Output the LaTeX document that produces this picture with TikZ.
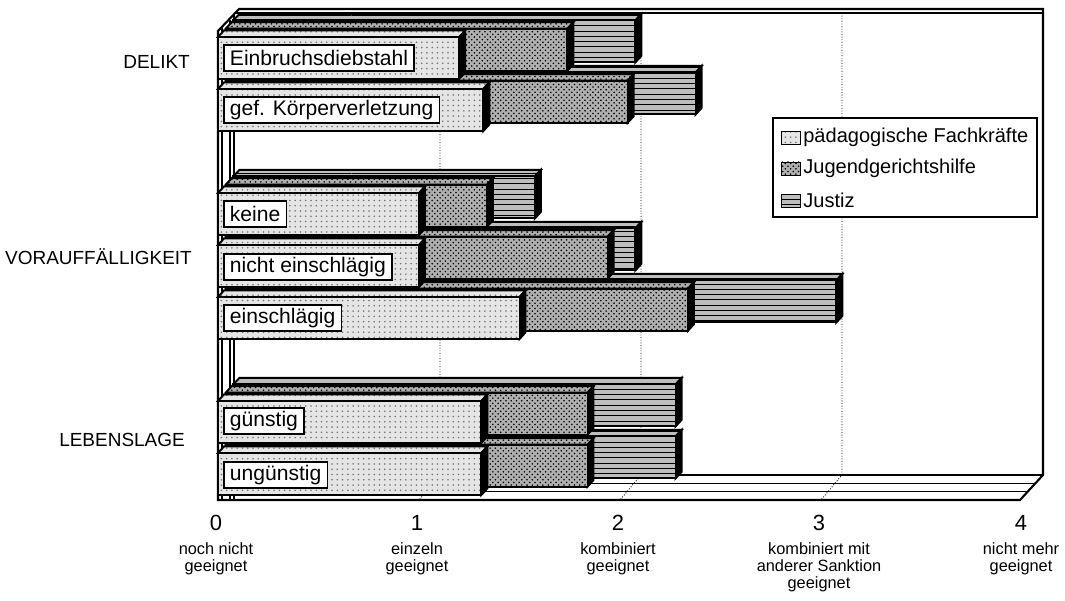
\documentclass[tikz,border=0pt]{standalone}
\usepackage{fontspec}
\setmainfont{Liberation Sans}
\usetikzlibrary{patterns}

\tikzset{
  paed/.style={draw=black, line width=1.1pt, preaction={fill=gray!20}, pattern=dots, pattern color=gray!90!black},
  jugend/.style={draw=black, line width=1.1pt, preaction={fill=gray!62}, pattern=crosshatch dots, pattern color=black},
  justiz/.style={draw=black, line width=1.1pt, preaction={fill=gray!52}, pattern=horizontal lines, pattern color=black},
  zeile/.style={draw=black, line width=0.9pt, fill=white, anchor=west, inner xsep=3.5pt, inner ysep=0pt, minimum height=15pt, font=\fontsize{12}{12}\selectfont},
  gruppe/.style={anchor=east, font=\fontsize{10.8}{12}\selectfont},
  legtext/.style={anchor=west, inner sep=0pt, font=\fontsize{11.4}{12}\selectfont},
  zahl/.style={font=\fontsize{12.5}{13}\selectfont},
  skala/.style={anchor=north, align=center, font=\fontsize{9.3}{9.9}\selectfont},
  gitter/.style={densely dotted, line width=0.5pt}
}

% 3D-Balken: Ebene, Oberkante, Wert, Stil
\newcommand{\balken}[4]{%
  \pgfmathsetmacro{\xa}{218+7.7*#1}%
  \pgfmathsetmacro{\ya}{#2-8.3*#1}%
  \pgfmathsetmacro{\xb}{\xa+201*#3}%
  \pgfmathsetmacro{\yb}{\ya+42}%
  \path[#4] (\xa,\ya) -- (\xa+6,\ya-6.5) -- (\xb+6,\ya-6.5) -- (\xb,\ya) -- cycle;
  \filldraw[line width=1.1pt] (\xb,\ya) -- (\xb+6,\ya-6.5) -- (\xb+6,\yb-6.5) -- (\xb,\yb) -- cycle;
  \path[#4] (\xa,\ya) rectangle (\xb,\yb);
}

\begin{document}
\begin{tikzpicture}[x=0.02cm, y=-0.02cm]
\useasboundingbox (0,0) rectangle (1065,601);

% Wand und Boden
\draw[line width=1.2pt] (218,31) -- (239,9) -- (1043,9) -- (1043,475) -- (1020,500) -- (218,500) -- cycle;
\draw[line width=0.6pt] (236,13) -- (1043,13);
\draw[line width=0.6pt] (239,475) -- (1043,475);
\draw[line width=0.6pt] (231.3,483.3) -- (1035.3,483.3);
\draw[line width=0.6pt] (223.7,491.7) -- (1027.7,491.7);
\draw[line width=0.8pt] (222,28) -- (222,500);
\draw[line width=0.6pt] (230,20) -- (230,500);
\draw[line width=0.6pt] (234,15) -- (234,500);

% Gitter
\draw[gitter] (440,13) -- (440,475) -- (419,500);
\draw[gitter] (641,13) -- (641,475) -- (620,500);
\draw[gitter] (842,13) -- (842,475) -- (821,500);

% Justiz
\balken{2}{37}{2.0}{justiz}
\balken{2}{89}{2.3}{justiz}
\balken{2}{193}{1.5}{justiz}
\balken{2}{245}{2.0}{justiz}
\balken{2}{297}{3.0}{justiz}
\balken{2}{401}{2.2}{justiz}
\balken{2}{453}{2.2}{justiz}

% Jugendgerichtshilfe
\balken{1}{37}{1.7}{jugend}
\balken{1}{89}{2.0}{jugend}
\balken{1}{193}{1.3}{jugend}
\balken{1}{245}{1.9}{jugend}
\balken{1}{297}{2.3}{jugend}
\balken{1}{401}{1.8}{jugend}
\balken{1}{453}{1.8}{jugend}

% paedagogische Fachkraefte
\balken{0}{37}{1.2}{paed}
\balken{0}{89}{1.32}{paed}
\balken{0}{193}{1.0}{paed}
\balken{0}{245}{1.0}{paed}
\balken{0}{297}{1.5}{paed}
\balken{0}{401}{1.31}{paed}
\balken{0}{453}{1.31}{paed}

% Zeilen
\node[zeile] (einbruch) at (223,58) {Einbruchsdiebstahl};
\node[zeile] (koerper) at (223,110) {gef. Körperverletzung};
\node[zeile] (keine) at (223,214) {keine};
\node[zeile] (nicht) at (223,267) {nicht einschlägig};
\node[zeile] (einschl) at (223,318) {einschlägig};
\node[zeile] (guenstig) at (223,421) {günstig};
\node[zeile] (unguenstig) at (223,475) {ungünstig};

% Gruppen
\node[gruppe] (delikt) at (196,62) {DELIKT};
\node[gruppe] (vorauf) at (198,257) {VORAUFFÄLLIGKEIT};
\node[gruppe] (lebenslage) at (191,440) {LEBENSLAGE};

% Legende
\draw[line width=0.8pt, fill=white] (773,118) rectangle (1037,217);
\path[paed, line width=0.5pt] (781,131) rectangle (800,144);
\path[jugend, line width=0.5pt] (781,162) rectangle (800,175);
\path[justiz, line width=0.5pt] (781,194) rectangle (800,207);
\node[legtext] (lpaed) at (803,137.5) {pädagogische Fachkräfte};
\node[legtext] (ljugend) at (803,168.5) {Jugendgerichtshilfe};
\node[legtext] (ljustiz) at (803,200.5) {Justiz};

% Skala
\node[zahl] (z0) at (216,523) {0};
\node[zahl] (z1) at (417,523) {1};
\node[zahl] (z2) at (618,523) {2};
\node[zahl] (z3) at (819,523) {3};
\node[zahl] (z4) at (1021,523) {4};
\node[skala] (s0) at (216,536) {noch nicht\\geeignet};
\node[skala] (s1) at (417,536) {einzeln\\geeignet};
\node[skala] (s2) at (618,536) {kombiniert\\geeignet};
\node[skala] (s3) at (819,536) {kombiniert mit\\anderer Sanktion\\geeignet};
\node[skala] (s4) at (1021,536) {nicht mehr\\geeignet};
\end{tikzpicture}
\end{document}
